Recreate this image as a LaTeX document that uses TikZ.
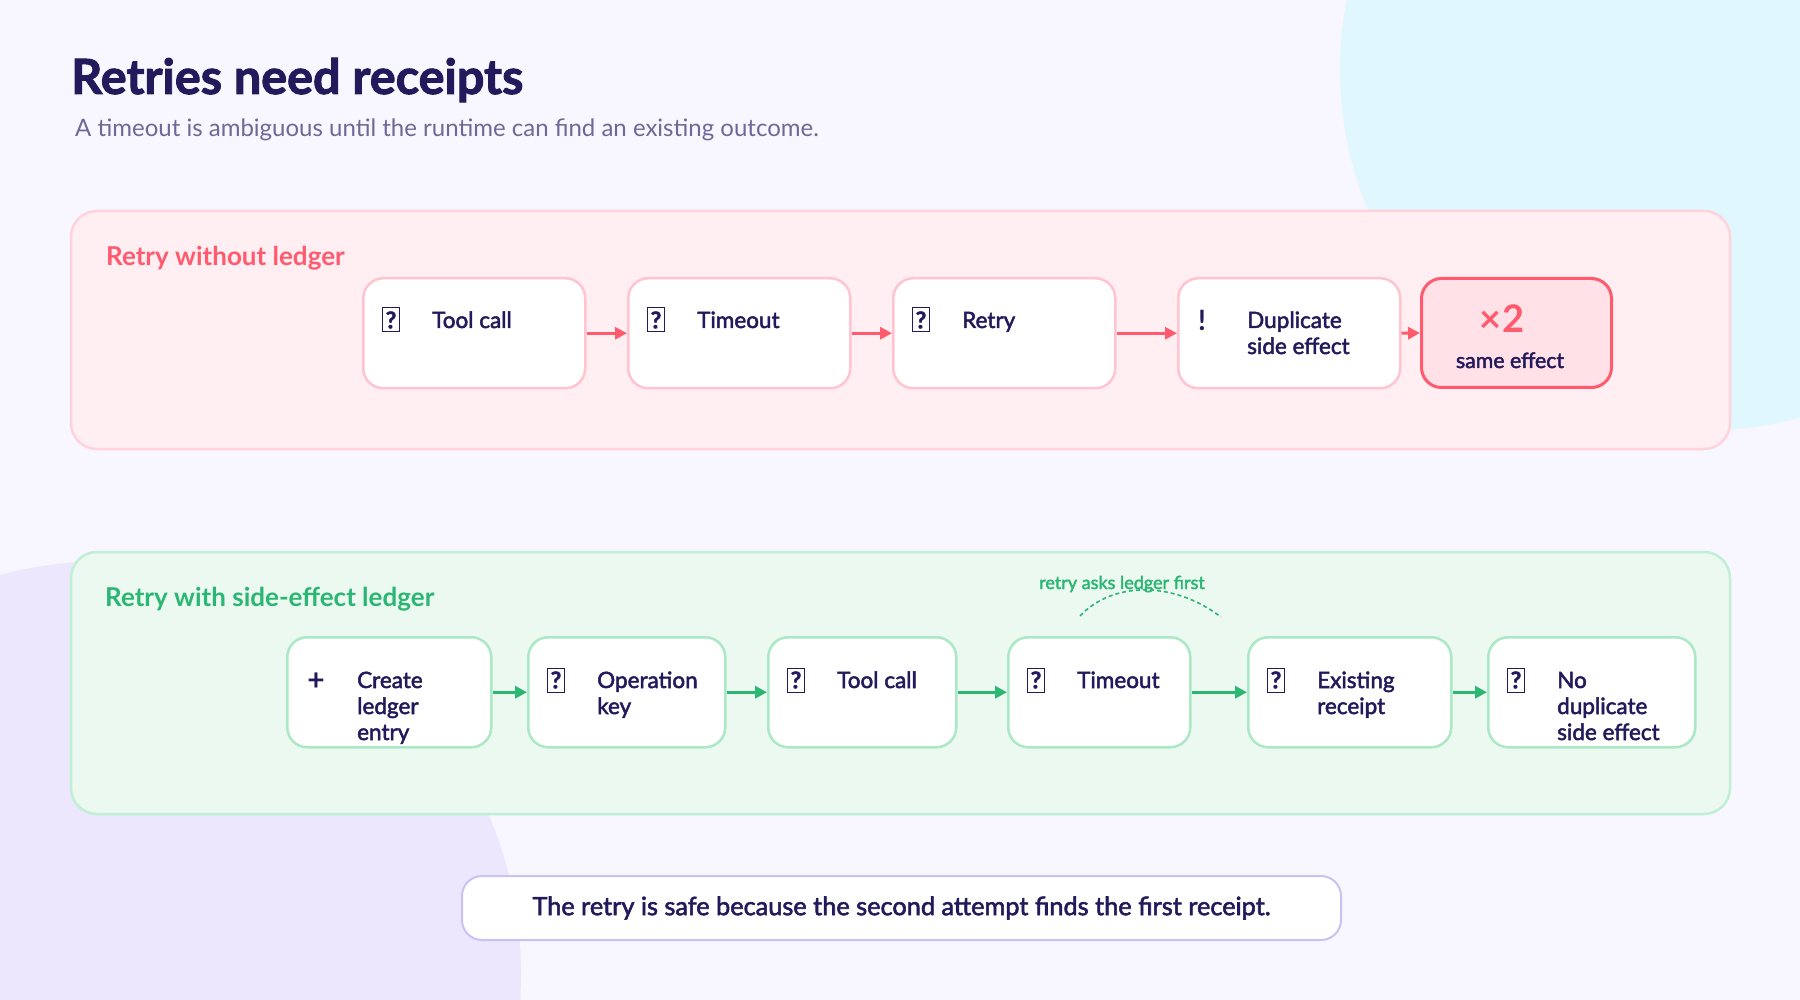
\documentclass[tikz,border=0pt]{standalone}
\usepackage{fontspec}
\setmainfont{Lato}
\newfontfamily\medfont{Lato}[FakeBold=2.2]
\newfontfamily\heavyfont{Lato}[FakeBold=2]
\usetikzlibrary{arrows.meta}
\definecolor{bg}{HTML}{F8F6FE}
\definecolor{cyanbg}{HTML}{DFF7FD}
\definecolor{lavbg}{HTML}{ECE7FD}
\definecolor{navy}{HTML}{231A5B}
\definecolor{subgray}{HTML}{6E6898}
\definecolor{redc}{HTML}{FF5A6D}
\definecolor{pinkfill}{HTML}{FFEFF3}
\definecolor{pinkstroke}{HTML}{FFD3DC}
\definecolor{boxpink}{HTML}{FFC4CF}
\definecolor{xfill}{HTML}{FFE1E7}
\definecolor{greenc}{HTML}{2BB673}
\definecolor{greenfill}{HTML}{ECF9F1}
\definecolor{greenstroke}{HTML}{BFEFD4}
\definecolor{boxgreen}{HTML}{AAE8C6}
\definecolor{lavstroke}{HTML}{C9C2F2}
\newcommand\mlines[1]{\vtop{\baselineskip=26pt\lineskiplimit=-100pt\relax #1}}
\tikzset{
  panelred/.style={draw=pinkstroke, fill=pinkfill, line width=2.5pt, rounded corners=26pt},
  panelgreen/.style={draw=greenstroke, fill=greenfill, line width=2.5pt, rounded corners=26pt},
  stepred/.style={draw=boxpink, fill=white, line width=2.5pt, rounded corners=20pt, anchor=north west, inner sep=0pt, minimum height=110pt},
  stepgreen/.style={draw=boxgreen, fill=white, line width=2.5pt, rounded corners=20pt, anchor=north west, inner sep=0pt, minimum height=110pt},
  btxt/.style={anchor=base west, inner sep=0pt, text=navy, font=\medfont\fontsize{22.5}{26}\selectfont},
  tofu/.style={draw=navy, line width=1pt, minimum width=17pt, minimum height=24pt, inner sep=0pt, text=navy, font=\heavyfont\bfseries\fontsize{23}{23}\selectfont},
  glyph/.style={inner sep=0pt, text=navy, font=\bfseries\fontsize{28}{28}\selectfont},
  arrred/.style={draw=redc, line width=3pt, -{Triangle[length=12pt,width=12pt]}},
  arrgreen/.style={draw=greenc, line width=3pt, -{Triangle[length=12pt,width=12pt]}},
  plabel/.style={anchor=base west, inner sep=0pt, font=\bfseries\fontsize{26}{26}\selectfont},
}
\begin{document}
\begin{tikzpicture}[x=1pt,y=-1pt]
\useasboundingbox (0,0) rectangle (1800,1000);
\fill[bg] (0,0) rectangle (1800,1000);
\begin{scope}
\clip (0,0) rectangle (1800,1000);
\fill[cyanbg] (1701,70) circle[radius=361];
\fill[lavbg] (107,975) circle[radius=414];
\end{scope}

% title
\node[anchor=base west, inner sep=0pt, text=navy, font=\heavyfont\bfseries\fontsize{48.5}{50}\selectfont] (title) at (71,94) {Retries need receipts};
\node[anchor=base west, inner sep=0pt, text=subgray, font=\fontsize{24}{24}\selectfont] (subtitle) at (75,137) {A timeout is ambiguous until the runtime can find an existing outcome.};

% top panel
\draw[panelred] (71,211) rectangle (1730,449);
\node[plabel, text=redc] (toplabel) at (106,266) {Retry without ledger};

\node[stepred, minimum width=222pt] (a1) at (362,277) {};
\node[stepred, minimum width=222pt] (a2) at (627,277) {};
\node[stepred, minimum width=222pt] (a3) at (892,277) {};
\node[stepred, minimum width=222pt] (a4) at (1177,277) {};
\node[draw=redc, fill=xfill, line width=3pt, rounded corners=20pt, anchor=north west, inner sep=0pt, minimum width=190pt, minimum height=109pt] (a5) at (1420,277) {};

\node[tofu] (ia1) at (391,320) {?};
\node[btxt] (ta1) at (432,328) {Tool call};
\node[tofu] (ia2) at (656,320) {?};
\node[btxt] (ta2) at (697,328) {Timeout};
\node[tofu] (ia3) at (921,320) {?};
\node[btxt] (ta3) at (962,328) {Retry};
\node[glyph, anchor=base] (ia4) at (1202,331) {!};
\node[btxt] (ta4) at (1247,328) {\mlines{\hbox{Duplicate}\hbox{side effect}}};
\node[anchor=base, inner sep=0pt, text=redc, font=\bfseries\fontsize{38}{38}\selectfont] (x2) at (1502,333) {×2};
\node[anchor=base, inner sep=0pt, text=navy, font=\medfont\fontsize{21.3}{22}\selectfont] (same) at (1510,368) {same effect};

\draw[arrred] (a1.east) -- (a2.west);
\draw[arrred] (a2.east) -- (a3.west);
\draw[arrred] (a3.east) -- (a4.west);
\draw[arrred] (a4.east) -- (a5.west);

% bottom panel
\draw[panelgreen] (71,552) rectangle (1730,814);
\node[plabel, text=greenc] (botlabel) at (105,606) {Retry with side-effect ledger};

\node[stepgreen, minimum width=204pt] (b1) at (286,636) {};
\node[stepgreen, minimum width=197pt] (b2) at (527,636) {};
\node[stepgreen, minimum width=188pt] (b3) at (767,636) {};
\node[stepgreen, minimum width=182pt] (b4) at (1007,636) {};
\node[stepgreen, minimum width=203pt] (b5) at (1247,636) {};
\node[stepgreen, minimum width=207pt] (b6) at (1487,636) {};

\node[glyph, anchor=base, font=\bfseries\fontsize{30}{30}\selectfont] (ib1) at (316,690) {+};
\node[btxt] (tb1) at (357,688) {\mlines{\hbox{Create}\hbox{ledger}\hbox{entry}}};
\node[tofu] (ib2) at (556,680) {?};
\node[btxt] (tb2) at (597,688) {\mlines{\hbox{Operation}\hbox{key}}};
\node[tofu] (ib3) at (796,680) {?};
\node[btxt] (tb3) at (837,688) {Tool call};
\node[tofu] (ib4) at (1036,680) {?};
\node[btxt] (tb4) at (1077,688) {Timeout};
\node[tofu] (ib5) at (1276,680) {?};
\node[btxt] (tb5) at (1317,688) {\mlines{\hbox{Existing}\hbox{receipt}}};
\node[tofu] (ib6) at (1516,680) {?};
\node[btxt] (tb6) at (1557,688) {\mlines{\hbox{No}\hbox{duplicate}\hbox{side effect}}};

\draw[arrgreen] (b1.east) -- (b2.west);
\draw[arrgreen] (b2.east) -- (b3.west);
\draw[arrgreen] (b3.east) -- (b4.west);
\draw[arrgreen] (b4.east) -- (b5.west);
\draw[arrgreen] (b5.east) -- (b6.west);

% dashed note
\coordinate (d1) at (1080,616);
\coordinate (d2) at (1221,617);
\draw[greenc, line width=1.6pt, dash pattern=on 4pt off 3pt] (d1) .. controls (1112,582) and (1172,580) .. (d2);
\node[anchor=base, inner sep=0pt, text=greenc, font=\medfont\fontsize{18}{18}\selectfont] (note) at (1122,589) {retry asks ledger first};

% summary
\node[draw=lavstroke, fill=white, line width=2pt, rounded corners=20pt, minimum width=879pt, minimum height=64pt, inner sep=0pt, text=navy, font=\medfont\fontsize{25.3}{26}\selectfont] (sum) at (901.5,908) {The retry is safe because the second attempt finds the first receipt.};
\end{tikzpicture}
\end{document}
